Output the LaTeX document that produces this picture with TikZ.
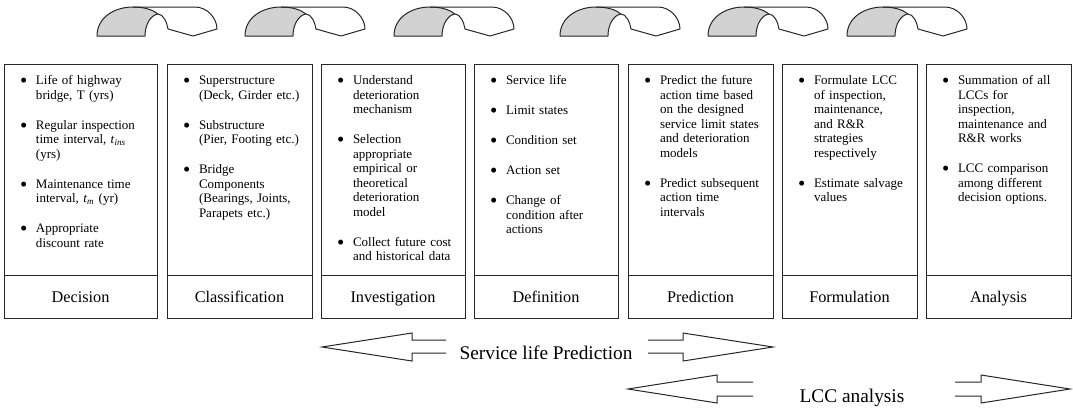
\documentclass[tikz,border=0pt]{standalone}
\usepackage{fontspec}
\setmainfont{Liberation Serif}
\usepackage{enumitem}
\usetikzlibrary{positioning}
\newcommand{\bodyfont}{\fontsize{9.75pt}{10.9pt}\selectfont}
\newcommand{\mybullet}{\raisebox{-2.2pt}{\scalebox{1.6}{\textbullet}}}
\newenvironment{stageitems}{\begin{itemize}[label=\mybullet,leftmargin=24pt,labelsep=6.5pt,
  itemsep=11.6pt,parsep=0pt,topsep=0pt,partopsep=0pt]}{\end{itemize}}

\begin{document}
\begin{tikzpicture}[x=0.75pt,y=-0.75pt, every node/.style={align=center,outer sep=0pt},
    stagebox/.style={draw=black!85,line width=0.75pt,minimum height=158.6pt},
    stagename/.style={draw=black!85,line width=0.75pt,minimum height=31.9pt,
      text height=8.1pt,text depth=0pt,font=\fontsize{12.2pt}{14pt}\selectfont},
    itemlist/.style={anchor=north west,align=left,text width=108pt,inner sep=0pt,font=\bodyfont},
    bigarrow/.style={draw=black!85,line width=0.75pt,line join=miter},
    flowtext/.style={anchor=base,inner sep=0pt,font=\fontsize{14.5pt}{17pt}\selectfont},
    twist/.style={draw=black!85,line width=0.75pt,line join=round}]
  \useasboundingbox (0,0) rectangle (1073,408);

  % twisted arrows on top
  \foreach \tx in {97,245,394,560,708,847} {
    \begin{scope}[shift={(\tx,0)}]
      \fill[gray!35] (0,36) .. controls (0,17) and (18,7) .. (36,7)
        .. controls (48,7) and (56,10) .. (61,14)
        .. controls (54,15) and (48,24) .. (48,36) -- cycle;
      \draw[twist] (48,36) -- (0,36) .. controls (0,17) and (18,7) .. (36,7) -- (98,7)
        .. controls (110,7) and (120,18) .. (120,29) -- (96,36) -- (71,29)
        .. controls (70,22) and (66,14) .. (61,14)
        .. controls (54,15) and (48,24) .. (48,36);
      \draw[twist] (36,7) .. controls (48,7) and (56,10) .. (61,14);
    \end{scope}
  }

  % stage boxes
  \node[stagebox,minimum width=114.75pt] (decisionbox) at (80.5,170.25) {};
  \node[stagebox,minimum width=108.75pt] (classbox) at (239.5,170.25) {};
  \node[stagebox,minimum width=108pt] (investbox) at (393,170.25) {};
  \node[stagebox,minimum width=108pt] (definebox) at (546,170.25) {};
  \node[stagebox,minimum width=108.75pt] (predictbox) at (700.5,170.25) {};
  \node[stagebox,minimum width=101.25pt] (formulabox) at (849.5,170.25) {};
  \node[stagebox,minimum width=108.75pt] (analysisbox) at (998.5,170.25) {};

  \node[stagename,minimum width=114.75pt,below=0pt of decisionbox] (decision) {Decision};
  \node[stagename,minimum width=108.75pt,below=0pt of classbox] (classification) {Classification};
  \node[stagename,minimum width=108pt,below=0pt of investbox] (investigation) {Investigation};
  \node[stagename,minimum width=108pt,below=0pt of definebox] (definition) {Definition};
  \node[stagename,minimum width=108.75pt,below=0pt of predictbox] (prediction) {Prediction};
  \node[stagename,minimum width=101.25pt,below=0pt of formulabox] (formulation) {Formulation};
  \node[stagename,minimum width=108.75pt,below=0pt of analysisbox] (analysis) {Analysis};

  \node[itemlist] (decisionitems) at (4,70) {\begin{stageitems}
      \item Life of highway\newline bridge, T (yrs)
      \item Regular inspection\newline time interval, \textit{t}\textsubscript{\textit{ins}}\newline (yrs)
      \item Maintenance time\newline interval, \textit{t}\textsubscript{\textit{m}} (yr)
      \item Appropriate\newline discount rate
    \end{stageitems}};
  \node[itemlist] (classitems) at (167,70) {\begin{stageitems}
      \item Superstructure\newline (Deck, Girder etc.)
      \item Substructure\newline (Pier, Footing etc.)
      \item Bridge\newline Components\newline (Bearings, Joints,\newline Parapets etc.)
    \end{stageitems}};
  \node[itemlist] (investitems) at (321,70) {\begin{stageitems}
      \item Understand\newline deterioration\newline mechanism
      \item Selection\newline appropriate\newline empirical or\newline theoretical\newline deterioration\newline model
      \item Collect future cost\newline and historical data
    \end{stageitems}};
  \node[itemlist] (defineitems) at (474,70) {\begin{stageitems}
      \item Service life
      \item Limit states
      \item Condition set
      \item Action set
      \item Change of\newline condition after\newline actions
    \end{stageitems}};
  \node[itemlist] (predictitems) at (628,70) {\begin{stageitems}
      \item Predict the future\newline action time based\newline on the designed\newline service limit states\newline and deterioration\newline models
      \item Predict subsequent\newline action time\newline intervals
    \end{stageitems}};
  \node[itemlist] (formulaitems) at (782,70) {\begin{stageitems}
      \item Formulate LCC\newline of inspection,\newline maintenance,\newline and R\&R\newline strategies\newline respectively
      \item Estimate salvage\newline values
    \end{stageitems}};
  \node[itemlist] (analysisitems) at (926,70) {\begin{stageitems}
      \item Summation of all\newline LCCs for\newline inspection,\newline maintenance and\newline R\&R works
      \item LCC comparison\newline among different\newline decision options.
    \end{stageitems}};

  % span arrows
  \node[flowtext] (servicelife) at (546,359) {Service life Prediction};
  \draw[bigarrow] (446,340) -- (412,340) -- (412,333) -- (322,347) -- (412,361) -- (412,353) -- (446,353);
  \draw[bigarrow] (648,340) -- (683,340) -- (683,333) -- (773,347) -- (683,361) -- (683,353) -- (648,353);
  \node[flowtext] (lccanalysis) at (852,402) {LCC analysis};
  \draw[bigarrow] (753,382) -- (717,382) -- (717,375) -- (628,389) -- (717,403) -- (717,396) -- (753,396);
  \draw[bigarrow] (955,382) -- (981,382) -- (981,375) -- (1070,389) -- (981,403) -- (981,396) -- (955,396);
\end{tikzpicture}
\end{document}
